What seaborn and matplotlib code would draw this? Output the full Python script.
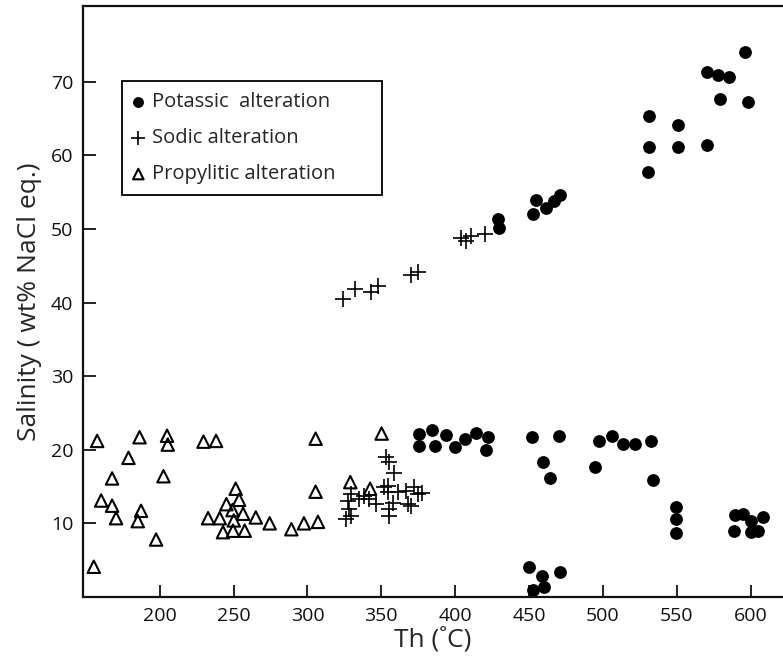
import pandas as pd
import matplotlib.pyplot as plt
import seaborn as sns

# Th (C) / salinity (wt% NaCl eq.)
potassic_th = [428.9, 429.6, 453.0, 454.9, 461.6, 466.6, 471.1,
               531.1, 531.1, 530.6, 551.2, 551.2, 570.3, 570.3, 577.8, 585.7, 579.4, 596.3, 598.5,
               375.2, 375.4, 384.5, 386.3, 393.5, 399.6, 407.0, 413.8, 422.1, 421.0,
               452.2, 470.2, 459.8, 464.5,
               497.2, 505.9, 513.9, 522.1, 532.7, 495.0, 534.2,
               549.6, 549.6, 549.6,
               589.7, 594.7, 600.3, 608.2, 589.0, 600.3, 604.8,
               449.7, 458.9, 471.3, 452.6, 460.5]
potassic_sal = [51.4, 50.1, 52.1, 54.0, 52.9, 53.8, 54.6,
                65.3, 61.2, 57.8, 64.1, 61.2, 61.4, 71.3, 70.9, 70.7, 67.6, 74.0, 67.3,
                22.2, 20.5, 22.7, 20.5, 22.0, 20.4, 21.5, 22.3, 21.8, 19.9,
                21.7, 21.9, 18.4, 16.1,
                21.2, 21.9, 20.8, 20.8, 21.2, 17.6, 15.9,
                12.2, 10.6, 8.7,
                11.2, 11.3, 10.3, 10.8, 9.0, 8.8, 9.0,
                4.1, 2.9, 3.4, 1.0, 1.3]

sodic_th = [324.0, 331.9, 343.2, 347.7, 370.3, 374.8, 404.1, 407.5, 410.9, 419.9,
            353.1, 355.4, 358.8, 329.4, 327.2, 328.4, 329.4, 326.1, 338.5, 346.4,
            352.0, 354.3, 354.3, 361.0, 366.7, 372.3, 374.6, 357.6, 367.8, 355.4,
            355.4, 341.9, 335.1, 377.7, 370.3]
sodic_sal = [40.5, 41.9, 41.4, 42.2, 43.7, 44.2, 48.8, 48.4, 49.0, 49.3,
             19.0, 18.3, 16.9, 14.0, 13.1, 11.9, 11.0, 10.6, 13.7, 12.6,
             14.9, 14.2, 15.1, 14.2, 14.4, 14.9, 14.0, 12.8, 12.6, 11.9,
             11.0, 13.3, 13.3, 14.1, 12.4]

propylitic_th = [155.3, 157.6, 160.3, 167.7, 167.7, 170.4, 178.8, 185.1, 186.3, 187.3,
                 197.5, 202.5, 204.9, 205.4, 229.6, 238.1, 232.7, 240.6, 242.8, 245.1,
                 249.2, 250.1, 249.6, 251.4, 253.7, 256.4, 257.5, 265.0, 274.4, 289.1,
                 297.6, 307.1, 305.5, 305.5, 329.0, 342.4, 350.2]
propylitic_sal = [4.1, 21.2, 13.1, 16.1, 12.4, 10.7, 18.9, 10.3, 21.7, 11.7,
                  7.8, 16.4, 21.9, 20.7, 21.1, 21.2, 10.7, 10.7, 8.8, 12.6,
                  11.8, 10.4, 9.0, 14.7, 13.2, 11.3, 9.0, 10.8, 10.0, 9.2,
                  10.0, 10.2, 21.5, 14.3, 15.6, 14.7, 22.2]

x_ticks = [200, 250, 300, 350, 400, 450, 500, 550, 600]
y_ticks = [10, 20, 30, 40, 50, 60, 70]

sns.set_style("ticks")
plt.rcParams['font.family'] = ['Open Sans', 'DejaVu Sans']

fig = plt.figure(figsize=(7.83, 6.64), dpi=100)
ax = fig.add_axes([0.106, 0.101, 0.894, 0.890])

sns.scatterplot(x=potassic_th, y=potassic_sal, ax=ax, marker='o', color='black',
                s=85, linewidth=0, label='Potassic  alteration')
sns.scatterplot(x=sodic_th, y=sodic_sal, ax=ax, marker='+', color='black',
                s=130, linewidth=1.2, label='Sodic alteration')
sns.scatterplot(x=propylitic_th, y=propylitic_sal, ax=ax, marker='^', facecolors='none',
                edgecolors='black', s=80, linewidth=1.5, label='Propylitic alteration')

ax.set_xlim(148, 622)
ax.set_ylim(0, 80.3)
ax.set_xticks(x_ticks)
ax.set_yticks(y_ticks)
ax.tick_params(direction='in', length=9, width=1.3, labelsize=14, pad=7, colors='#111111')
ax.set_xlabel('Th (˚C)', fontsize=19, labelpad=2)
ax.set_ylabel('Salinity ( wt% NaCl eq.)', fontsize=19, labelpad=6)

for side in ['left', 'bottom', 'top']:
    ax.spines[side].set_linewidth(1.6)
    ax.spines[side].set_color('#111111')
ax.spines['right'].set_visible(False)

leg = ax.legend(loc='upper left', bbox_to_anchor=(0.056, 0.873, 0.371, 0.0), mode='expand',
                fontsize=14.5, frameon=True, fancybox=False, edgecolor='black', framealpha=1,
                handlelength=0.5, handletextpad=0.45, labelspacing=0.8,
                borderpad=0.55, markerscale=0.85, borderaxespad=0)
leg.get_frame().set_linewidth(1.3)

fig.savefig('out.png', dpi=100)
